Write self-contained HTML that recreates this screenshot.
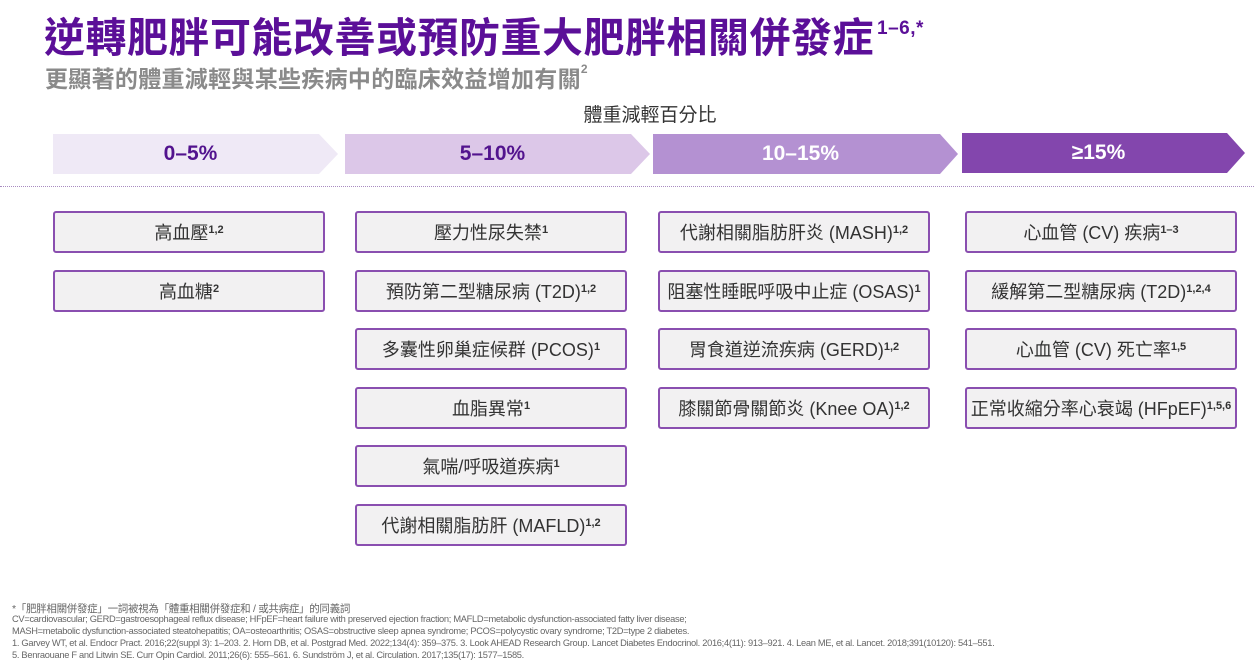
<!DOCTYPE html>
<html><head><meta charset="utf-8"><style>
*{margin:0;padding:0;box-sizing:border-box}
body{width:1254px;height:669px;background:#fff;position:relative;overflow:hidden;font-family:"Liberation Sans","Noto Sans CJK TC",sans-serif}
.t{position:absolute;white-space:nowrap}
.title{left:44px;top:4px;font-size:41px;font-weight:bold;color:#5b0f98;letter-spacing:0.5px}
.title sup{font-size:19px;vertical-align:top;position:relative;top:14px;margin-left:3px}
.sub{left:45px;top:60px;font-size:23px;font-weight:bold;color:#8a8a8a;letter-spacing:0.3px}
.sub sup{font-size:12px;vertical-align:top;position:relative;top:2px}
.hdr{left:0;width:1300px;text-align:center;top:100px;font-size:19px;color:#333}
.arrow{position:absolute;top:134px;height:40px;display:flex;align-items:center;justify-content:center;font-size:21px;font-weight:bold}
.dot{position:absolute;left:0;top:186px;width:1254px;border-top:1.5px dotted #a88bc0}
.box{position:absolute;width:272px;height:42px;border:2.5px solid #8a4fb0;border-radius:3px;background:#f2f1f2;display:flex;align-items:center;justify-content:center;font-size:18px;color:#333}
.box sup{font-size:11px;vertical-align:top;position:relative;top:-2px;font-weight:bold}
.foot{left:12px;font-size:9.3px;color:#666;letter-spacing:-0.3px}
</style></head><body>
<div class="t title">逆轉肥胖可能改善或預防重大肥胖相關併發症<sup>1–6,*</sup></div>
<div class="t sub">更顯著的體重減輕與某些疾病中的臨床效益增加有關<sup>2</sup></div>
<div class="t hdr">體重減輕百分比</div>
<svg style="position:absolute;left:0;top:0" width="1254" height="200">
<polygon points="53,134 319,134 338,154 319,174 53,174" fill="#efe9f6"/>
<polygon points="345,134 631,134 650,154 631,174 345,174" fill="#dcc7e8"/>
<polygon points="653,134 940,134 958,154 940,174 653,174" fill="#b491d2"/>
<polygon points="962,133 1227,133 1245,153 1227,173 962,173" fill="#8346ad"/>
</svg>
<div class="arrow" style="left:53px;width:275px;color:#52138e">0–5%</div>
<div class="arrow" style="left:345px;width:295px;color:#52138e">5–10%</div>
<div class="arrow" style="left:653px;width:295px;color:#fff">10–15%</div>
<div class="arrow" style="left:962px;width:273px;color:#fff;top:133px">≥15%</div>
<div class="dot"></div>

<div class="box" style="left:53px;top:211px">高血壓<sup>1,2</sup></div>
<div class="box" style="left:53px;top:270px">高血糖<sup>2</sup></div>

<div class="box" style="left:355px;top:211px">壓力性尿失禁<sup>1</sup></div>
<div class="box" style="left:355px;top:270px">預防第二型糖尿病 (T2D)<sup>1,2</sup></div>
<div class="box" style="left:355px;top:328px">多囊性卵巢症候群 (PCOS)<sup>1</sup></div>
<div class="box" style="left:355px;top:387px">血脂異常<sup>1</sup></div>
<div class="box" style="left:355px;top:445px">氣喘/呼吸道疾病<sup>1</sup></div>
<div class="box" style="left:355px;top:504px">代謝相關脂肪肝 (MAFLD)<sup>1,2</sup></div>

<div class="box" style="left:658px;top:211px">代謝相關脂肪肝炎 (MASH)<sup>1,2</sup></div>
<div class="box" style="left:658px;top:270px">阻塞性睡眠呼吸中止症 (OSAS)<sup>1</sup></div>
<div class="box" style="left:658px;top:328px">胃食道逆流疾病 (GERD)<sup>1,2</sup></div>
<div class="box" style="left:658px;top:387px">膝關節骨關節炎 (Knee OA)<sup>1,2</sup></div>

<div class="box" style="left:965px;top:211px">心血管 (CV) 疾病<sup>1–3</sup></div>
<div class="box" style="left:965px;top:270px">緩解第二型糖尿病 (T2D)<sup>1,2,4</sup></div>
<div class="box" style="left:965px;top:328px">心血管 (CV) 死亡率<sup>1,5</sup></div>
<div class="box" style="left:965px;top:387px">正常收縮分率心衰竭 (HFpEF)<sup>1,5,6</sup></div>

<div class="t foot" style="top:601px;font-size:10.5px">*「肥胖相關併發症」一詞被視為「體重相關併發症和 / 或共病症」的同義詞</div>
<div class="t foot" style="top:614px">CV=cardiovascular; GERD=gastroesophageal reflux disease; HFpEF=heart failure with preserved ejection fraction; MAFLD=metabolic dysfunction-associated fatty liver disease;</div>
<div class="t foot" style="top:626px">MASH=metabolic dysfunction-associated steatohepatitis; OA=osteoarthritis; OSAS=obstructive sleep apnea syndrome; PCOS=polycystic ovary syndrome; T2D=type 2 diabetes.</div>
<div class="t foot" style="top:638px">1. Garvey WT, et al. Endocr Pract. 2016;22(suppl 3): 1–203. 2. Horn DB, et al. Postgrad Med. 2022;134(4): 359–375. 3. Look AHEAD Research Group. Lancet Diabetes Endocrinol. 2016;4(11): 913–921. 4. Lean ME, et al. Lancet. 2018;391(10120): 541–551.</div>
<div class="t foot" style="top:650px">5. Benraouane F and Litwin SE. Curr Opin Cardiol. 2011;26(6): 555–561. 6. Sundström J, et al. Circulation. 2017;135(17): 1577–1585.</div>
</body></html>
